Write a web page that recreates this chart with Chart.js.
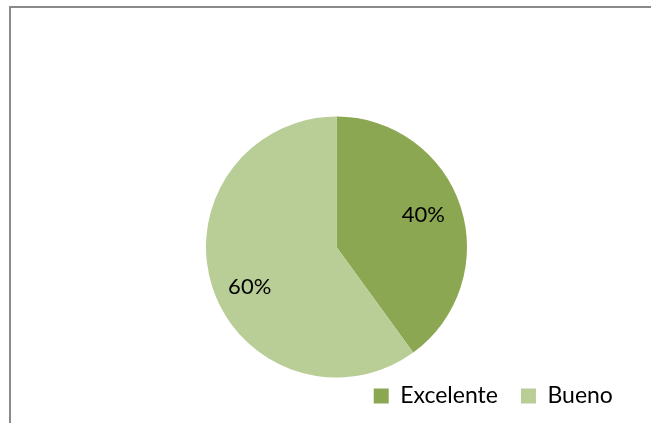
<!DOCTYPE html>
<html>
<head>
<meta charset="utf-8">
<title>Calificación</title>
<script src="https://cdn.jsdelivr.net/npm/chart.js@4/dist/chart.umd.min.js"></script>
<style>
  html, body { margin: 0; padding: 0; background: #ffffff; }
  canvas { display: block; }
</style>
</head>
<body>
<canvas id="pie" width="651" height="423"></canvas>
<script>
// Categories and their shares (percent)
const categories = ['Excelente', 'Bueno'];
const shares = [40, 60];
const sliceColors = ['#8ca752', '#b9cd96'];

const FONT = 'Lato, "Open Sans", sans-serif';

// Thin grey frame around the chart
const framePlugin = {
  id: 'frame',
  beforeDraw(chart) {
    const ctx = chart.ctx;
    ctx.save();
    ctx.fillStyle = '#ffffff';
    ctx.fillRect(0, 0, chart.width, chart.height);
    ctx.strokeStyle = '#8a8a8a';
    ctx.lineWidth = 2;
    ctx.strokeRect(10, 7, chart.width + 20, chart.height + 20);
    ctx.restore();
  }
};

// Percentage labels inside each slice, nudged slightly counter-clockwise
const percentLabels = {
  id: 'percentLabels',
  afterDatasetsDraw(chart) {
    const ctx = chart.ctx;
    const data = chart.data.datasets[0].data;
    const total = data.reduce((a, b) => a + b, 0);
    const meta = chart.getDatasetMeta(0);
    const shift = -4.5 * Math.PI / 180;
    ctx.save();
    ctx.font = '22px ' + FONT;
    ctx.fillStyle = '#000000';
    ctx.textAlign = 'center';
    ctx.textBaseline = 'middle';
    meta.data.forEach((arc, i) => {
      const p = arc.getProps(['x', 'y', 'startAngle', 'endAngle', 'outerRadius'], true);
      const mid = (p.startAngle + p.endAngle) / 2 + shift;
      const r = p.outerRadius * 0.72;
      const pct = Math.round(data[i] / total * 100) + '%';
      ctx.fillText(pct, p.x + Math.cos(mid) * r, p.y + Math.sin(mid) * r + 4);
    });
    ctx.restore();
  }
};

new Chart(document.getElementById('pie'), {
  type: 'pie',
  data: {
    labels: categories,
    datasets: [{
      data: shares,
      backgroundColor: sliceColors,
      borderWidth: 0
    }]
  },
  options: {
    responsive: false,
    animation: false,
    radius: 130.5,
    layout: { padding: { top: 132.5, bottom: 5.5, left: 37.1, right: 15.1 } },
    plugins: {
      legend: {
        position: 'bottom',
        align: 'end',
        labels: {
          boxWidth: 15,
          boxHeight: 15,
          padding: 23,
          color: '#000000',
          font: { family: FONT, size: 23 }
        }
      },
      tooltip: { enabled: false }
    }
  },
  plugins: [framePlugin, percentLabels]
});
</script>
</body>
</html>
